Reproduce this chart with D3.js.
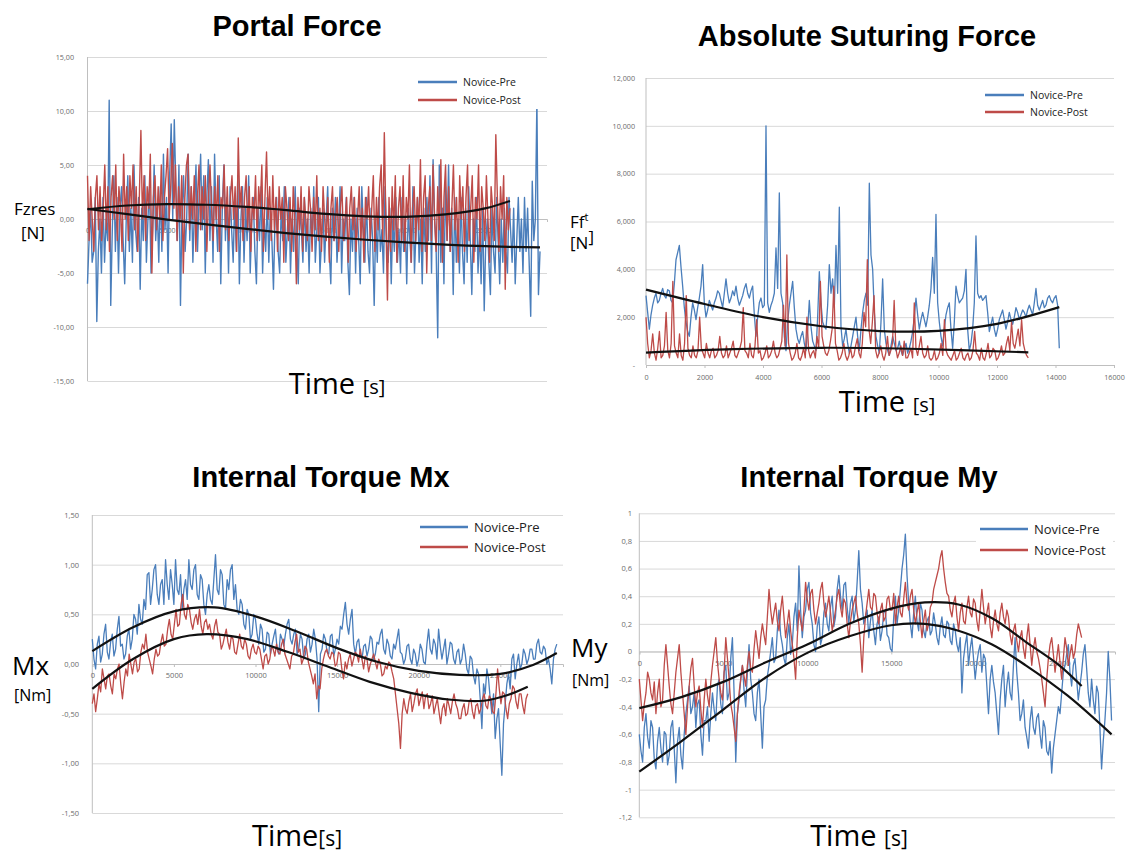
<!DOCTYPE html>
<html>
<head>
<meta charset="utf-8">
<script src="https://cdn.jsdelivr.net/npm/d3@7"></script>
<style>
  html, body { margin: 0; padding: 0; background: #ffffff; }
  svg { display: block; }
</style>
</head>
<body>
<script>
// ---------------- DATA ----------------
const seriesNames = ["Novice-Pre", "Novice-Post"];

// Panel 1: Portal Force (Fzres, N)
const portalTitle = "Portal Force";
const portalYTicks = [-15, -10, -5, 0, 5, 10, 15];
const portalXTicks = [0, 5000, 10000, 15000, 20000, 25000];
const portalXMax = 28900;
const portalPreEnd = 28460;
const portalPostEnd = 26570;
const portalPre = [
  -6, -2, 1, -4, -3, 2, -9.5, -3, 0, -5,
  2, -4, 0, -2, 11, -8, -1, 4, -3, 2,
  -5, 1, 3, -2, -6, 0, 4, -3, 1, -4,
  5, -1, -3, 2, -6.5, 1, -2, 4, -4, 0,
  3, -5, -1, 5, -2, 1, -4, 3, -3, 6,
  -1, 2, -5, 4, 8.8, 0, 9.2, 3, -2, 5,
  -8, 1, 4, -3, 0, 6, -2, 3, -4, 1,
  5, -3, 2, 6, -1, 4, -5, 2, 5.5, -2,
  3, -4, 6, 0, -3, 4, -6, 1, 5, -2,
  2, -5, 3, -1, -4, 2, -3, 4, -6, 0,
  3, -4, 1, -2, 4, -5, 0, 2, -3, -6,
  1, -2, 3, -5, 0, -3, 2, -4, 1, -2,
  -6.5, 0, 2, -3, -5, 1, -2, 3, -4, -1,
  2, -5, 0, -3, 3, -2, -6, 1, -1, -4,
  2, -3, 0, -5, 1, -2, 3, -4, -1, 2,
  -5, -2, 1, -4, 0, 3, -3, -6, 1, -2,
  2, -4, -1, 3, -5, 0, -2, 2, -4, -7,
  0, -3, 2, -5, 1, -2, -6, 3, -1, -4,
  2, -3, -5, 1, -2, -8, 0, -4, 2, -3,
  -1, -5, 3, -2, -4, 1, -6, 0, -3, 2,
  -4, -1, -5, 2, -3, 0, -6, 1, -2, -4,
  3, -5, -1, 2, -4, 0, -6, 1, -3, 2,
  -2, 4, -5, 5.5, 0, -3, -11, 5, -4, 1,
  -6, 3, -2, 5, -3, 1, -7, 2, -4, 0,
  -5, 2, -3, -6, 1, -4, 3, -2, -7, 0,
  -3, 2, -5, -1, -6, 1, -8.5, -2, 0, -4,
  -7, 1, -3, -5, 2, -2, -6, 0, -4, 1,
  -3, -5, 2, -1, -4, 1, -6, -2, 2, -3,
  0, -5, 2, -3, 1, -4, -9, 3.5, -2, 0,
  11, -7, -3
];
const portalPost = [
  4, -2, 3, 0, -3, 2, 4, -1, 3, -2,
  1, 5, -1, 3, -3, 2, 4, 0, 5, -2,
  3, 1, -3, 6, 0, 3, -2, 4, 1, 5,
  -1, 3, -3, 2, 8.2, 0, 4, -2, 3, 1,
  6, -5, 2, 4, -1, 3, 0, 5, -2, 2,
  4, 6.5, 0, 3, 7, 1, 5, -2, 3, 0,
  4, -5, 2, 5, 6, -1, 3, 0, 4, -3,
  2, 5, -1, 3, 0, 4, -3, 2, 5, 1,
  -2, 3, 0, 4, -3, 2, 1, 5, -1, 3,
  -2, 2, 4, 0, 3, -3, 7.5, 1, 3, -2,
  2, 4, -1, 3, -3, 2, 0, 4, -2, 3,
  1, 5, -3, 2, 6.2, 0, 3, -2, 4, -1,
  2, -3, 3, 0, 2, -4, 3, 1, -2, 2,
  -3, 3, 0, -6, 2, -1, 3, -3, 2, 0,
  -2, 3, 1, -3, 2, -1, 4, -2, 1, -3,
  3, 0, -2, 2, -4, 1, 3, -2, 0, 2,
  -3, 1, 3, -2, 0, 2, -4, 1, 3, -1,
  2, -3, 0, 3, -2, 1, -4, 2, 0, 3,
  -2, 1, 4, -3, 2, -1, 3, 5, -2, 8,
  0, -7.5, 2, -3, 3, -1, 4, -4, 1, 3,
  -2, 4, -3, 2, 0, 5, -4, 1, 3, -2,
  2, -1, 5.5, -3, 2, 4, -5, 1, 3, -2,
  5, 0, -3, 3, -1, 5.5, -4, 2, 5, -2,
  3, -3, 1, 5, -1, 2, -4, 4, 0, 3,
  -3, 2, 5, -2, 1, 4, -4, 2, 0, 5,
  -3, 3, 1, -2, 4, 0, -4, 3, 1, -2,
  7.8, 2, -3, 3, 0, 4, -6.5, 2, -1, 1
];
const portalPreTrend = [[0,0.93],[2500,0.45],[5000,-0.05],[7500,-0.5],[10000,-0.92],[12500,-1.3],[15000,-1.63],[17500,-1.92],[20000,-2.17],[22500,-2.37],[25000,-2.52],[28460,-2.63]];
const portalPostTrend = [[0,0.9],[2500,1.25],[5000,1.38],[7500,1.32],[10000,1.12],[12500,0.82],[15000,0.47],[17500,0.25],[20000,0.2],[22500,0.42],[25000,0.98],[26570,1.67]];

// Panel 2: Absolute Suturing Force (Ff^t, N)
const sutTitle = "Absolute Suturing Force";
const sutYTicks = [0, 2000, 4000, 6000, 8000, 10000, 12000];
const sutXTicks = [0, 2000, 4000, 6000, 8000, 10000, 12000, 14000, 16000];
const sutXMax = 16000;
const sutPreEnd = 14130;
const sutPostEnd = 13070;
const sutPre = [
  2900, 2200, 1500, 2100, 2500, 2800, 3000, 2600, 2700, 3000, 3200, 2900, 2800, 3150, 3100, 2700, 2600, 3400, 4400, 4700,
  5000, 4100, 3300, 2400, 1800, 1400, 1200, 2000, 2600, 2300, 1900, 2400, 2800, 3300, 4200, 2600, 2000, 2300, 2700, 2500,
  2300, 2600, 2800, 3100, 3000, 2700, 2400, 3000, 3600, 3000, 2600, 2800, 3100, 2900, 3300, 2800, 2500, 2700, 2900, 3200,
  3400, 3000, 2800, 3100, 3300, 2100, 1200, 2000, 2600, 2800, 2400, 2500, 10000, 2600, 2200, 2500, 2700, 3000, 4900, 3200,
  7200, 3000, 2600, 1200, 600, 1800, 2500, 3000, 3500, 2400, 1500, 1100, 900, 1200, 1400, 900, 600, 1500, 2700, 1600,
  1000, 800, 600, 2000, 3900, 2600, 1800, 1600, 1500, 2500, 4200, 3000, 3600, 2400, 5000, 3000, 6600, 1600, 800, 1100,
  1500, 900, 500, 800, 1200, 1600, 2000, 1200, 600, 1500, 2200, 2700, 3000, 2500, 7600, 4600, 4000, 2200, 1200, 800,
  500, 1800, 3600, 1500, 900, 600, 400, 800, 1200, 900, 600, 700, 1000, 600, 400, 700, 900, 500, 700, 1000,
  1400, 2000, 2800, 2100, 1500, 1900, 2200, 1900, 1600, 2000, 2500, 3200, 4500, 3000, 6300, 2600, 1800, 1200, 800, 1500,
  2100, 2400, 2600, 1500, 700, 1800, 3300, 2900, 2600, 2700, 2800, 3100, 4000, 1500, 600, 900, 1500, 2600, 5400, 3000,
  2800, 2900, 2700, 2800, 2900, 2200, 1400, 1700, 2000, 1500, 1200, 1500, 1900, 2100, 2300, 1900, 1500, 1800, 2200, 1900,
  1700, 2000, 2400, 2200, 1900, 2100, 2300, 2200, 2000, 2300, 2500, 2300, 2100, 2600, 3200, 2500, 2300, 2500, 2700, 2400,
  2500, 2800, 2900, 2700, 2600, 2800, 2900, 2500, 700
];
const sutPost = [
  2000, 900, 300, 600, 1300, 500, 200, 700, 1400, 300, 400, 800, 2200, 600, 300, 900, 3500, 800, 500, 300,
  1300, 400, 200, 900, 2900, 700, 400, 300, 800, 400, 300, 600, 2000, 700, 500, 300, 900, 500, 300, 600,
  700, 300, 400, 600, 1200, 500, 300, 400, 800, 300, 500, 700, 1000, 400, 300, 500, 700, 1000, 2400, 600,
  500, 300, 900, 400, 300, 800, 1900, 500, 600, 200, 300, 500, 800, 300, 400, 600, 1000, 500, 300, 400,
  700, 1000, 2500, 800, 4600, 900, 500, 200, 300, 500, 900, 300, 200, 400, 700, 300, 2000, 600, 300, 500,
  600, 300, 1200, 700, 3500, 1200, 800, 500, 400, 600, 1000, 1500, 3300, 900, 600, 200, 300, 500, 900, 400,
  200, 400, 700, 300, 400, 800, 1100, 500, 300, 900, 2200, 1600, 4400, 1500, 900, 1800, 2900, 600, 300, 500,
  800, 400, 200, 500, 1200, 400, 600, 900, 2700, 700, 300, 500, 800, 400, 1000, 300, 300, 500, 700, 300,
  2600, 700, 400, 800, 1200, 500, 300, 400, 800, 300, 200, 300, 600, 200, 300, 500, 900, 400, 1900, 600,
  400, 300, 200, 400, 600, 200, 300, 500, 700, 300, 200, 400, 500, 200, 300, 600, 1400, 500, 400, 200,
  700, 300, 200, 500, 900, 300, 400, 700, 600, 200, 300, 500, 800, 400, 500, 900, 1200, 600, 1800, 900,
  700, 1100, 1500, 800, 1900, 900, 600, 400, 300
];
const sutPreTrend = [[0,3150],[2000,2550],[4000,2000],[6000,1620],[8000,1420],[10000,1430],[12000,1720],[14130,2420]];
const sutPostTrend = [[0,520],[3000,660],[6000,720],[9000,680],[13070,530]];

// Panel 3: Internal Torque Mx (Nm)
const mxTitle = "Internal Torque Mx";
const mxYTicks = [-1.5, -1, -0.5, 0, 0.5, 1, 1.5];
const mxXTicks = [0, 5000, 10000, 15000, 20000, 25000];
const mxXMax = 28840;
const mxPreEnd = 28460;
const mxPostEnd = 26680;
const mxPre = [
  0.25, 0.05, -0.05, 0.20, 0.28, 0.02, 0.10, 0.30, 0.40, 0.12,
  0.05, 0.22, 0.30, 0.08, 0.15, 0.35, 0.48, 0.18, 0.20, 0.05,
  0.10, 0.28, 0.35, 0.15, 0.25, 0.50, 0.45, 0.30, 0.60, 0.45,
  0.40, 0.65, 0.55, 0.90, 0.92, 0.60, 0.75, 0.95, 1.00, 0.70,
  0.60, 0.80, 0.85, 0.60, 1.05, 0.80, 0.65, 0.95, 0.80, 0.60,
  1.05, 0.75, 0.70, 0.90, 0.55, 0.75, 0.85, 0.65, 1.05, 0.80,
  0.75, 0.95, 1.00, 0.70, 0.65, 0.90, 0.85, 0.60, 0.50, 0.70,
  0.80, 0.65, 0.60, 0.85, 1.10, 0.75, 0.70, 0.95, 0.90, 0.60,
  0.55, 0.85, 0.75, 0.95, 1.00, 0.65, 0.80, 0.55, 0.50, 0.65,
  0.60, 0.40, 0.35, 0.55, 0.50, 0.25, 0.30, 0.50, 0.45, 0.30,
  0.20, 0.40, 0.35, 0.12, 0.15, 0.32, 0.30, 0.10, 0.20, 0.28,
  0.35, 0.15, 0.10, 0.30, 0.25, 0.18, 0.30, 0.40, 0.45, 0.25,
  0.20, 0.30, 0.35, 0.10, 0.15, 0.30, 0.25, 0.05, 0.10, 0.25,
  0.30, 0.12, 0.20, 0.35, 0.25, 0.05, -0.48, 0.10, 0.15, 0.30,
  0.25, 0.12, 0.10, 0.28, 0.30, 0.08, 0.15, 0.25, 0.20, 0.38,
  0.35, 0.50, 0.62, 0.40, 0.30, 0.45, 0.55, 0.20, 0.10, 0.22,
  0.25, 0.10, 0.05, 0.18, 0.20, 0.08, 0.15, 0.28, 0.25, 0.05,
  0.10, 0.22, 0.20, 0.30, 0.35, 0.15, 0.10, 0.25, 0.20, 0.08,
  0.05, 0.20, 0.15, 0.25, 0.35, 0.12, 0.10, 0.00, 0.05, 0.18,
  0.20, 0.05, 0.00, 0.15, 0.10, -0.02, 0.05, 0.20, 0.15, 0.02,
  0.00, 0.20, 0.35, 0.15, 0.10, 0.25, 0.20, 0.05, 0.35, 0.18,
  0.05, 0.15, 0.25, 0.00, 0.10, 0.22, 0.20, 0.05, 0.00, 0.12,
  0.15, 0.00, 0.05, 0.20, 0.10, -0.05, -0.10, 0.08, 0.05, -0.12,
  -0.20, -0.05, -0.10, -0.35, -0.65, -0.20, -0.30, -0.05, -0.15, -0.35,
  -0.50, -0.30, -0.75, -0.55, -0.45, -0.80, -1.12, -0.60, -0.40, -0.20,
  -0.10, -0.25, 0.05, 0.10, -0.15, 0.00, 0.10, -0.05, 0.00, 0.15,
  0.10, 0.00, 0.05, 0.15, 0.15, 0.05, 0.05, 0.20, 0.25, 0.12,
  0.10, 0.18, 0.15, 0.00, 0.05, -0.05, -0.20, 0.05, 0.15, 0.20
];
const mxPost = [
  -0.40, -0.30, -0.48, -0.35, -0.20, -0.28, -0.05, -0.15, -0.25, -0.12,
  -0.10, -0.22, -0.30, -0.10, -0.15, -0.05, 0.00, -0.20, -0.35, -0.18,
  -0.05, -0.12, 0.10, 0.00, -0.10, 0.02, 0.05, -0.08, -0.05, 0.12,
  0.20, 0.15, 0.30, 0.12, 0.05, -0.02, -0.10, 0.05, 0.15, 0.08,
  0.10, 0.22, 0.30, 0.18, 0.20, 0.35, 0.45, 0.30, 0.25, 0.40,
  0.55, 0.38, 0.40, 0.60, 0.70, 0.50, 0.45, 0.60, 0.55, 0.42,
  0.35, 0.45, 0.50, 0.40, 0.55, 0.38, 0.30, 0.42, 0.45, 0.35,
  0.40, 0.30, 0.25, 0.38, 0.45, 0.32, 0.30, 0.15, 0.20, 0.28,
  0.35, 0.22, 0.15, 0.28, 0.25, 0.12, 0.10, 0.20, 0.30, 0.18,
  0.15, 0.25, 0.20, 0.08, 0.05, 0.15, 0.20, 0.12, 0.10, 0.18,
  0.15, 0.05, -0.05, 0.08, 0.10, 0.00, 0.05, 0.18, 0.15, 0.08,
  0.20, 0.12, 0.10, 0.20, 0.25, 0.10, 0.05, 0.00, -0.05, 0.08,
  0.10, 0.22, 0.30, 0.12, 0.15, 0.00, 0.05, 0.18, 0.15, 0.02,
  -0.05, -0.12, -0.20, -0.10, -0.35, -0.22, -0.25, -0.05, 0.05, 0.12,
  0.15, 0.08, 0.05, 0.12, 0.10, -0.02, 0.00, 0.12, 0.10, -0.05,
  -0.15, 0.02, -0.05, 0.05, 0.10, -0.02, 0.05, 0.12, 0.10, 0.02,
  0.15, 0.05, -0.05, 0.08, 0.05, -0.08, 0.00, 0.05, 0.10, 0.02,
  -0.05, 0.05, 0.00, -0.12, -0.10, -0.02, -0.05, 0.02, 0.00, -0.08,
  -0.15, -0.30, -0.45, -0.60, -0.85, -0.50, -0.35, -0.45, -0.50, -0.38,
  -0.30, -0.48, -0.40, -0.30, -0.25, -0.42, -0.35, -0.28, -0.45, -0.32,
  -0.30, -0.45, -0.40, -0.32, -0.50, -0.42, -0.35, -0.48, -0.60, -0.45,
  -0.40, -0.52, -0.35, -0.42, -0.50, -0.38, -0.30, -0.40, -0.45, -0.55,
  -0.55, -0.45, -0.40, -0.52, -0.50, -0.38, -0.35, -0.48, -0.55, -0.42,
  -0.40, -0.50, -0.45, -0.35, -0.30, -0.42, -0.45, -0.32, -0.35, -0.48,
  -0.50, -0.30, -0.05, -0.25, -0.40, -0.28, -0.30, -0.45, -0.55, -0.40,
  -0.35, -0.22, -0.25, -0.38, -0.45, -0.30, -0.30, -0.42, -0.50, -0.35,
  -0.30
];
const mxPreTrend = [[0,0.13],[2500,0.37],[5000,0.53],[7500,0.57],[10000,0.48],[12500,0.33],[15000,0.16],[17500,0.02],[20000,-0.07],[22500,-0.11],[25000,-0.10],[27000,-0.01],[28460,0.11]];
const mxPostTrend = [[0,-0.25],[2500,0.05],[5000,0.25],[7000,0.30],[9500,0.25],[12000,0.12],[14500,-0.03],[17000,-0.18],[19500,-0.29],[22000,-0.36],[24000,-0.37],[25500,-0.31],[26680,-0.23]];

// Panel 4: Internal Torque My (Nm)
const myTitle = "Internal Torque My";
const myYTicks = [-1.2, -1, -0.8, -0.6, -0.4, -0.2, 0, 0.2, 0.4, 0.6, 0.8, 1];
const myXTicks = [0, 5000, 10000, 15000, 20000, 25000];
const myXMax = 28315;
const myPreEnd = 28110;
const myPostEnd = 26330;
const myPre = [
  -0.60, -0.72, -0.80, -0.55, -0.45, -0.62, -0.70, -0.50, -0.55, -0.78,
  -0.85, -0.65, -0.55, -0.70, -0.80, -0.58, -0.60, -0.82, -0.75, -0.55,
  -0.50, -0.70, -0.95, -0.65, -0.55, -0.75, -0.85, -0.60, -0.45, -0.35,
  -0.25, -0.45, -0.40, -0.30, -0.55, -0.38, -0.35, -0.60, -0.75, -0.50,
  -0.50, -0.40, -0.65, -0.45, -0.30, -0.42, -0.50, -0.25, -0.20, -0.38,
  -0.45, -0.15, -0.10, -0.35, -0.30, -0.05, 0.10, -0.30, -0.80, -0.45,
  -0.35, -0.20, -0.10, -0.28, -0.40, -0.15, 0.05, -0.20, -0.30, -0.45,
  -0.50, -0.30, -0.20, -0.45, -0.70, -0.40, -0.35, -0.18, -0.10, 0.00,
  0.10, -0.08, -0.05, 0.15, 0.30, 0.12, 0.05, -0.05, -0.10, 0.10,
  0.20, -0.02, 0.05, 0.25, 0.35, 0.15, 0.62, 0.30, 0.10, 0.25,
  0.30, 0.45, 0.50, 0.28, 0.20, 0.05, 0.00, 0.18, 0.25, 0.05,
  0.10, 0.28, 0.35, 0.20, 0.15, 0.32, 0.40, 0.18, 0.25, 0.45,
  0.55, 0.40, 0.30, 0.48, 0.50, 0.32, 0.20, 0.35, 0.40, 0.22,
  0.30, 0.50, 0.73, 0.45, 0.35, 0.20, 0.25, 0.30, 0.10, 0.22,
  0.30, 0.15, 0.05, 0.20, 0.25, 0.08, 0.15, 0.28, 0.30, 0.12,
  0.10, 0.02, 0.00, 0.25, 0.40, 0.20, 0.30, 0.45, 0.60, 0.70,
  0.85, 0.55, 0.35, 0.20, 0.10, 0.28, 0.40, 0.22, 0.15, 0.35,
  0.30, 0.15, 0.10, 0.22, 0.25, 0.12, 0.15, 0.28, 0.20, 0.10,
  0.05, 0.18, 0.25, 0.12, 0.10, 0.22, 0.20, 0.08, 0.05, 0.20,
  0.15, 0.05, 0.00, 0.10, -0.30, -0.05, 0.05, 0.12, -0.10, 0.02,
  0.10, -0.05, -0.20, -0.08, 0.00, 0.05, -0.15, -0.02, -0.05, -0.25,
  -0.45, -0.20, -0.10, -0.22, -0.30, -0.45, -0.60, -0.35, -0.20, -0.10,
  -0.40, -0.25, -0.15, -0.30, -0.35, -0.10, 0.10, -0.15, -0.30, -0.50,
  -0.45, -0.35, -0.55, -0.62, -0.70, -0.50, -0.40, -0.55, -0.60, -0.48,
  -0.45, -0.60, -0.70, -0.50, -0.55, -0.72, -0.75, -0.65, -0.88, -0.70,
  -0.60, -0.50, -0.40, -0.45, -0.30, -0.15, -0.10, -0.02, 0.05, -0.15,
  -0.25, -0.10, -0.05, -0.20, -0.35, -0.25, -0.15, -0.02, 0.05, -0.12,
  -0.30, -0.40, -0.20, -0.35, -0.45, -0.25, -0.30, -0.55, -0.85, -0.65,
  -0.50, -0.30, 0.00, -0.20, -0.50
];
const myPost = [
  -0.20, -0.35, -0.50, -0.38, -0.30, -0.15, -0.20, -0.30, -0.35, -0.22,
  -0.45, -0.30, -0.20, -0.40, -0.35, -0.10, 0.05, -0.10, -0.25, -0.38,
  -0.45, -0.30, -0.15, -0.05, 0.05, -0.15, -0.30, -0.45, -0.60, -0.40,
  -0.25, -0.12, -0.05, -0.25, -0.40, -0.30, -0.25, -0.42, -0.55, -0.35,
  -0.20, -0.32, -0.40, -0.22, -0.10, 0.00, 0.10, -0.08, -0.20, -0.30,
  -0.35, -0.15, 0.10, -0.05, -0.20, -0.38, -0.45, -0.55, -0.65, -0.45,
  -0.30, -0.20, -0.10, -0.18, -0.25, -0.10, 0.00, -0.12, -0.15, 0.02,
  0.15, 0.05, -0.05, 0.10, 0.20, 0.12, 0.05, 0.25, 0.45, 0.30,
  0.20, 0.28, 0.35, 0.22, 0.15, 0.30, 0.40, 0.25, 0.10, 0.20,
  0.30, 0.15, 0.05, -0.05, -0.20, 0.10, 0.30, 0.22, 0.15, 0.30,
  0.50, 0.38, 0.30, 0.42, 0.45, 0.30, 0.20, 0.28, 0.35, 0.45,
  0.50, 0.35, 0.25, 0.32, 0.40, 0.28, 0.15, 0.22, 0.30, 0.40,
  0.45, 0.32, 0.25, 0.38, 0.35, 0.20, 0.10, 0.22, 0.30, 0.35,
  0.40, 0.28, 0.20, 0.05, -0.15, 0.10, 0.25, 0.35, 0.45, 0.32,
  0.30, 0.42, 0.40, 0.28, 0.20, 0.30, 0.35, 0.22, 0.25, 0.38,
  0.40, 0.30, 0.30, 0.42, 0.20, 0.32, 0.40, 0.28, 0.25, 0.38,
  0.50, 0.35, 0.30, 0.40, 0.45, 0.30, 0.20, 0.28, 0.35, 0.22,
  0.10, 0.22, 0.30, 0.15, 0.20, 0.32, 0.35, 0.45, 0.50, 0.55,
  0.60, 0.68, 0.73, 0.60, 0.50, 0.42, 0.40, 0.30, 0.25, 0.35,
  0.40, 0.25, 0.15, 0.28, 0.35, 0.22, 0.20, 0.32, 0.40, 0.28,
  0.25, 0.38, 0.35, 0.22, 0.15, 0.30, 0.45, 0.32, 0.20, 0.28,
  0.35, 0.18, 0.10, 0.22, 0.30, 0.20, 0.15, 0.28, 0.35, 0.25,
  0.20, 0.30, 0.25, 0.12, 0.05, 0.15, 0.20, 0.08, 0.00, 0.10,
  0.15, 0.02, -0.05, 0.10, 0.20, 0.05, -0.10, 0.02, 0.10, 0.00,
  -0.05, -0.12, -0.20, -0.30, -0.40, -0.20, -0.05, 0.05, 0.10, -0.02,
  -0.15, -0.05, 0.05, -0.08, -0.20, -0.05, 0.10, 0.02, -0.10, -0.02,
  0.05, -0.05, 0.00, 0.12, 0.20, 0.15, 0.10
];
const myPreTrend = [[0,-0.87],[2500,-0.65],[5000,-0.42],[7500,-0.19],[10000,-0.01],[12500,0.11],[15000,0.19],[17000,0.20],[19000,0.15],[21000,0.05],[23000,-0.10],[25500,-0.32],[28110,-0.60]];
const myPostTrend = [[0,-0.41],[2500,-0.33],[5000,-0.22],[7500,-0.08],[10000,0.05],[12500,0.20],[15000,0.31],[17000,0.355],[19000,0.34],[21000,0.24],[23000,0.07],[25000,-0.10],[26330,-0.25]];

// ---------------- STYLE / LAYOUT ----------------
const colorPre = "#4a7ebb";
const colorPost = "#be4b48";
const gridColor = "#d9d9d9";
const tickColor = "#6b6b6b";
const titleFont = "'Liberation Sans', Arial, sans-serif";
const labelFont = "'Open Sans', 'Noto Sans', sans-serif";

const commaLocale = d3.formatLocale({decimal: ",", thousands: ",", grouping: [3], currency: ["", ""], minus: "-"});
const fmt2 = commaLocale.format(".2f");
const fmtThousands = v => v === 0 ? "-" : commaLocale.format(",")(v);
const fmtShort = v => commaLocale.format(".1f")(v).replace(/,0$/, "");

const W = 1126, H = 853;
const svg = d3.select("body").append("svg").attr("width", W).attr("height", H);

const panels = [
  {
    title: portalTitle, titleX: 297, titleY: 36,
    x0: 87.5, x1: 547, yTop: 57, yBot: 381, xMax: portalXMax, yDom: [-15, 15],
    yTicks: portalYTicks, xTicks: portalXTicks, yFmt: fmt2, yLabelX: 74, xAxisAtZero: true,
    tickFont: 7.2, xTickFont: 7,
    pre: portalPre, post: portalPost, preEnd: portalPreEnd, postEnd: portalPostEnd,
    preTrend: portalPreTrend, postTrend: portalPostTrend, lineW: 1.4,
    legend: {x: 418, len: 39, y1: 82, y2: 100, font: 10.5},
    ylab: [{t: "Fzres", x: 14, y: 215, s: 17}, {t: "[N]", x: 21, y: 239, s: 17}],
    xlab: {cx: 337, y: 394, s1: 29, s2: 20, sep: " "}
  },
  {
    title: sutTitle, titleX: 867, titleY: 46,
    x0: 646, x1: 1114, yTop: 78, yBot: 365, xMax: sutXMax, yDom: [0, 12000],
    yTicks: sutYTicks, xTicks: sutXTicks, yFmt: fmtThousands, yLabelX: 635, xAxisAtZero: false,
    tickFont: 7.2, xTickFont: 7.2,
    pre: sutPre, post: sutPost, preEnd: sutPreEnd, postEnd: sutPostEnd,
    preTrend: sutPreTrend, postTrend: sutPostTrend, lineW: 1.3,
    legend: {x: 985, len: 39, y1: 95, y2: 112, font: 10.5},
    ylab: null,
    xlab: {cx: 887, y: 412, s1: 29, s2: 20, sep: " "}
  },
  {
    title: mxTitle, titleX: 321, titleY: 487,
    x0: 92.3, x1: 563, yTop: 515, yBot: 813, xMax: mxXMax, yDom: [-1.5, 1.5],
    yTicks: mxYTicks, xTicks: mxXTicks, yFmt: fmt2, yLabelX: 79, xAxisAtZero: true,
    tickFont: 7.5, xTickFont: 7.5,
    pre: mxPre, post: mxPost, preEnd: mxPreEnd, postEnd: mxPostEnd,
    preTrend: mxPreTrend, postTrend: mxPostTrend, lineW: 1.3,
    legend: {x: 420, len: 48, y1: 527, y2: 547, font: 13},
    ylab: [{t: "Mx", x: 12, y: 675, s: 26}, {t: "[Nm]", x: 14, y: 701, s: 16}],
    xlab: {cx: 297, y: 846, s1: 29, s2: 21, sep: ""}
  },
  {
    title: myTitle, titleX: 869, titleY: 487,
    x0: 639.3, x1: 1115, yTop: 513.3, yBot: 817.3, xMax: myXMax, yDom: [-1.2, 1],
    yTicks: myYTicks, xTicks: myXTicks, yFmt: fmtShort, yLabelX: 632, xAxisAtZero: true,
    tickFont: 7.5, xTickFont: 7.5,
    pre: myPre, post: myPost, preEnd: myPreEnd, postEnd: myPostEnd,
    preTrend: myPreTrend, postTrend: myPostTrend, lineW: 1.3,
    legend: {x: 980, len: 48, y1: 529, y2: 550, font: 13},
    ylab: [{t: "My", x: 571, y: 657, s: 26}, {t: "[Nm]", x: 572, y: 686, s: 16}],
    xlab: {cx: 859, y: 846, s1: 29, s2: 21, sep: " "}
  }
];

panels.forEach(p => {
  const g = svg.append("g");
  const x = d3.scaleLinear().domain([0, p.xMax]).range([p.x0, p.x1]);
  const y = d3.scaleLinear().domain(p.yDom).range([p.yBot, p.yTop]);

  // gridlines via axis
  const grid = g.append("g").attr("transform", `translate(${p.x0},0)`)
    .call(d3.axisLeft(y).tickValues(p.yTicks).tickSize(-(p.x1 - p.x0)).tickFormat(""));
  grid.select(".domain").remove();
  grid.selectAll("line").attr("stroke", gridColor).attr("stroke-width", 1);

  // y labels
  const yl = g.append("g").attr("transform", `translate(${p.yLabelX},0)`)
    .call(d3.axisLeft(y).tickValues(p.yTicks).tickSize(0).tickPadding(0).tickFormat(p.yFmt));
  yl.select(".domain").remove();
  yl.selectAll("text").attr("fill", tickColor).attr("font-size", p.tickFont)
    .attr("font-family", labelFont);

  // vertical axis line
  g.append("line").attr("x1", p.x0).attr("x2", p.x0).attr("y1", p.yTop).attr("y2", p.yBot)
    .attr("stroke", "#bfbfbf").attr("stroke-width", 1);

  // x axis
  const xAxisY = p.xAxisAtZero ? y(0) : p.yBot;
  const xa = g.append("g").attr("transform", `translate(0,${xAxisY})`)
    .call(d3.axisBottom(x).tickValues(p.xTicks).tickSize(3).tickPadding(p.xAxisAtZero ? 6 : 7).tickFormat(d3.format("d")));
  xa.select(".domain").attr("stroke", "#bfbfbf");
  xa.selectAll("line").attr("stroke", "#bfbfbf");
  xa.selectAll("text").attr("fill", tickColor).attr("font-size", p.xTickFont)
    .attr("font-family", labelFont);

  // series
  const mkLine = end => d3.line()
    .x((d, i, arr) => x(i / (arr.length - 1) * end))
    .y(d => y(d));
  g.append("path").datum(p.pre).attr("d", mkLine(p.preEnd))
    .attr("fill", "none").attr("stroke", colorPre).attr("stroke-width", p.lineW)
    .attr("stroke-linejoin", "round");
  g.append("path").datum(p.post).attr("d", mkLine(p.postEnd))
    .attr("fill", "none").attr("stroke", colorPost).attr("stroke-width", p.lineW)
    .attr("stroke-linejoin", "round");

  // trend lines
  const trendLine = d3.line().x(d => x(d[0])).y(d => y(d[1])).curve(d3.curveCatmullRom);
  [p.preTrend, p.postTrend].forEach(t => {
    g.append("path").datum(t).attr("d", trendLine)
      .attr("fill", "none").attr("stroke", "#111").attr("stroke-width", 2.2);
  });

  // legend
  const L = p.legend;
  g.append("rect").attr("x", L.x - 4).attr("y", L.y1 - 9).attr("width", p.x1 - L.x + 2)
    .attr("height", L.y2 - L.y1 + 18).attr("fill", "#fff");
  [[colorPre, L.y1, seriesNames[0]], [colorPost, L.y2, seriesNames[1]]].forEach(([c, yy, name]) => {
    g.append("line").attr("x1", L.x).attr("x2", L.x + L.len).attr("y1", yy).attr("y2", yy)
      .attr("stroke", c).attr("stroke-width", 2.6);
    g.append("text").attr("x", L.x + L.len + 6).attr("y", yy).attr("dy", "0.35em")
      .attr("font-family", labelFont).attr("font-size", L.font).attr("fill", "#222").text(name);
  });

  // title
  g.append("text").attr("x", p.titleX).attr("y", p.titleY).attr("text-anchor", "middle")
    .attr("font-family", titleFont).attr("font-weight", "bold").attr("font-size", 29)
    .attr("fill", "#000").text(p.title);

  // x axis title
  const xt = g.append("text").attr("x", p.xlab.cx).attr("y", p.xlab.y).attr("text-anchor", "middle")
    .attr("font-family", labelFont).attr("fill", "#000");
  xt.append("tspan").attr("font-size", p.xlab.s1).text("Time" + p.xlab.sep);
  xt.append("tspan").attr("font-size", p.xlab.s2).text("[s]");

  // y axis title
  if (p.ylab) {
    p.ylab.forEach(l => {
      g.append("text").attr("x", l.x).attr("y", l.y).attr("font-family", labelFont)
        .attr("font-size", l.s).attr("fill", "#000").text(l.t);
    });
  }
});

// special label for panel 2: Ff with superscript t, [N]
const ff = svg.append("text").attr("x", 570).attr("y", 228).attr("font-family", labelFont)
  .attr("font-size", 17).attr("fill", "#000");
ff.append("tspan").text("Ff");
ff.append("tspan").attr("dy", -7).attr("font-size", 11).text("t");
const nn = svg.append("text").attr("x", 570).attr("y", 249).attr("font-family", labelFont)
  .attr("font-size", 17).attr("fill", "#000");
nn.append("tspan").text("[N");
nn.append("tspan").attr("dy", -6).text("]");
</script>
</body>
</html>
